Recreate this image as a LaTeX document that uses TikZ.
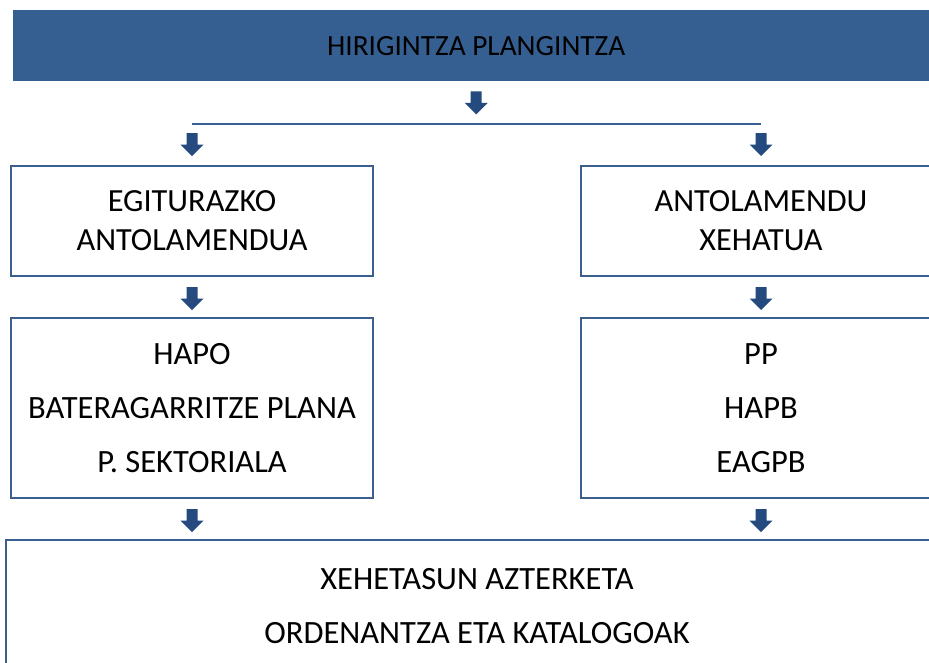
\documentclass[tikz,border=0pt]{standalone}
\usepackage{fontspec}
\setmainfont{Carlito}
\usetikzlibrary{calc}
\definecolor{barblue}{HTML}{365F91}
\definecolor{arrowblue}{HTML}{244A7F}
\definecolor{lineblue}{HTML}{3A5F8F}
\begin{document}
\begin{tikzpicture}[x=1pt,y=-1pt,
  box/.style={draw=lineblue,line width=2pt,fill=white,inner sep=0pt,align=center,anchor=north west},
  boxtext/.style={font=\fontsize{32.3}{39}\selectfont},
  boxtextwide/.style={font=\fontsize{32.5}{54}\selectfont},
  blockarrow/.pic={\fill[arrowblue] (-5.5,0) -- (5.5,0) -- (5.5,11.5) -- (11.5,11.5) -- (0,23) -- (-11.5,11.5) -- (-5.5,11.5) -- cycle;}
]
\useasboundingbox (0,0) rectangle (929,662);
% top bar
\node[fill=barblue,minimum width=926pt,minimum height=71pt,inner sep=0pt,anchor=north west,font=\fontsize{29.3}{34}\selectfont] (top) at (13,10) {HIRIGINTZA PLANGINTZA};
% row 1 boxes
\node[box,boxtext,minimum width=362pt,minimum height=110pt] (egit) at (10,165) {EGITURAZKO\\ANTOLAMENDUA};
\node[box,boxtext,minimum width=360pt,minimum height=110pt] (xeh) at (580,165) {ANTOLAMENDU\\XEHATUA};
% row 2 boxes
\node[box,boxtextwide,minimum width=362pt,minimum height=180pt] (hapo) at (10,317) {HAPO\\BATERAGARRITZE PLANA\\P. SEKTORIALA};
\node[box,boxtextwide,minimum width=360pt,minimum height=180pt] (pp) at (580,317) {PP\\HAPB\\EAGPB};
% bottom box
\node[box,boxtextwide,minimum width=942pt,minimum height=132pt] (xet) at (5,539) {XEHETASUN AZTERKETA\\ORDENANTZA ETA KATALOGOAK};
% split line
\coordinate (splitL) at (egit.north |- 0,124);
\coordinate (splitR) at (xeh.north |- 0,124);
\draw[lineblue,line width=2pt] (splitL) -- (splitR);
% arrows
\pic at ($(top.south)+(0,10)$) {blockarrow};
\pic at ($(splitL)+(0,9)$) {blockarrow};
\pic at ($(splitR)+(0,9)$) {blockarrow};
\pic at ($(egit.south)+(0,10)$) {blockarrow};
\pic at ($(xeh.south)+(0,10)$) {blockarrow};
\pic at ($(hapo.south)+(0,10)$) {blockarrow};
\pic at ($(pp.south)+(0,10)$) {blockarrow};
\end{tikzpicture}
\end{document}
